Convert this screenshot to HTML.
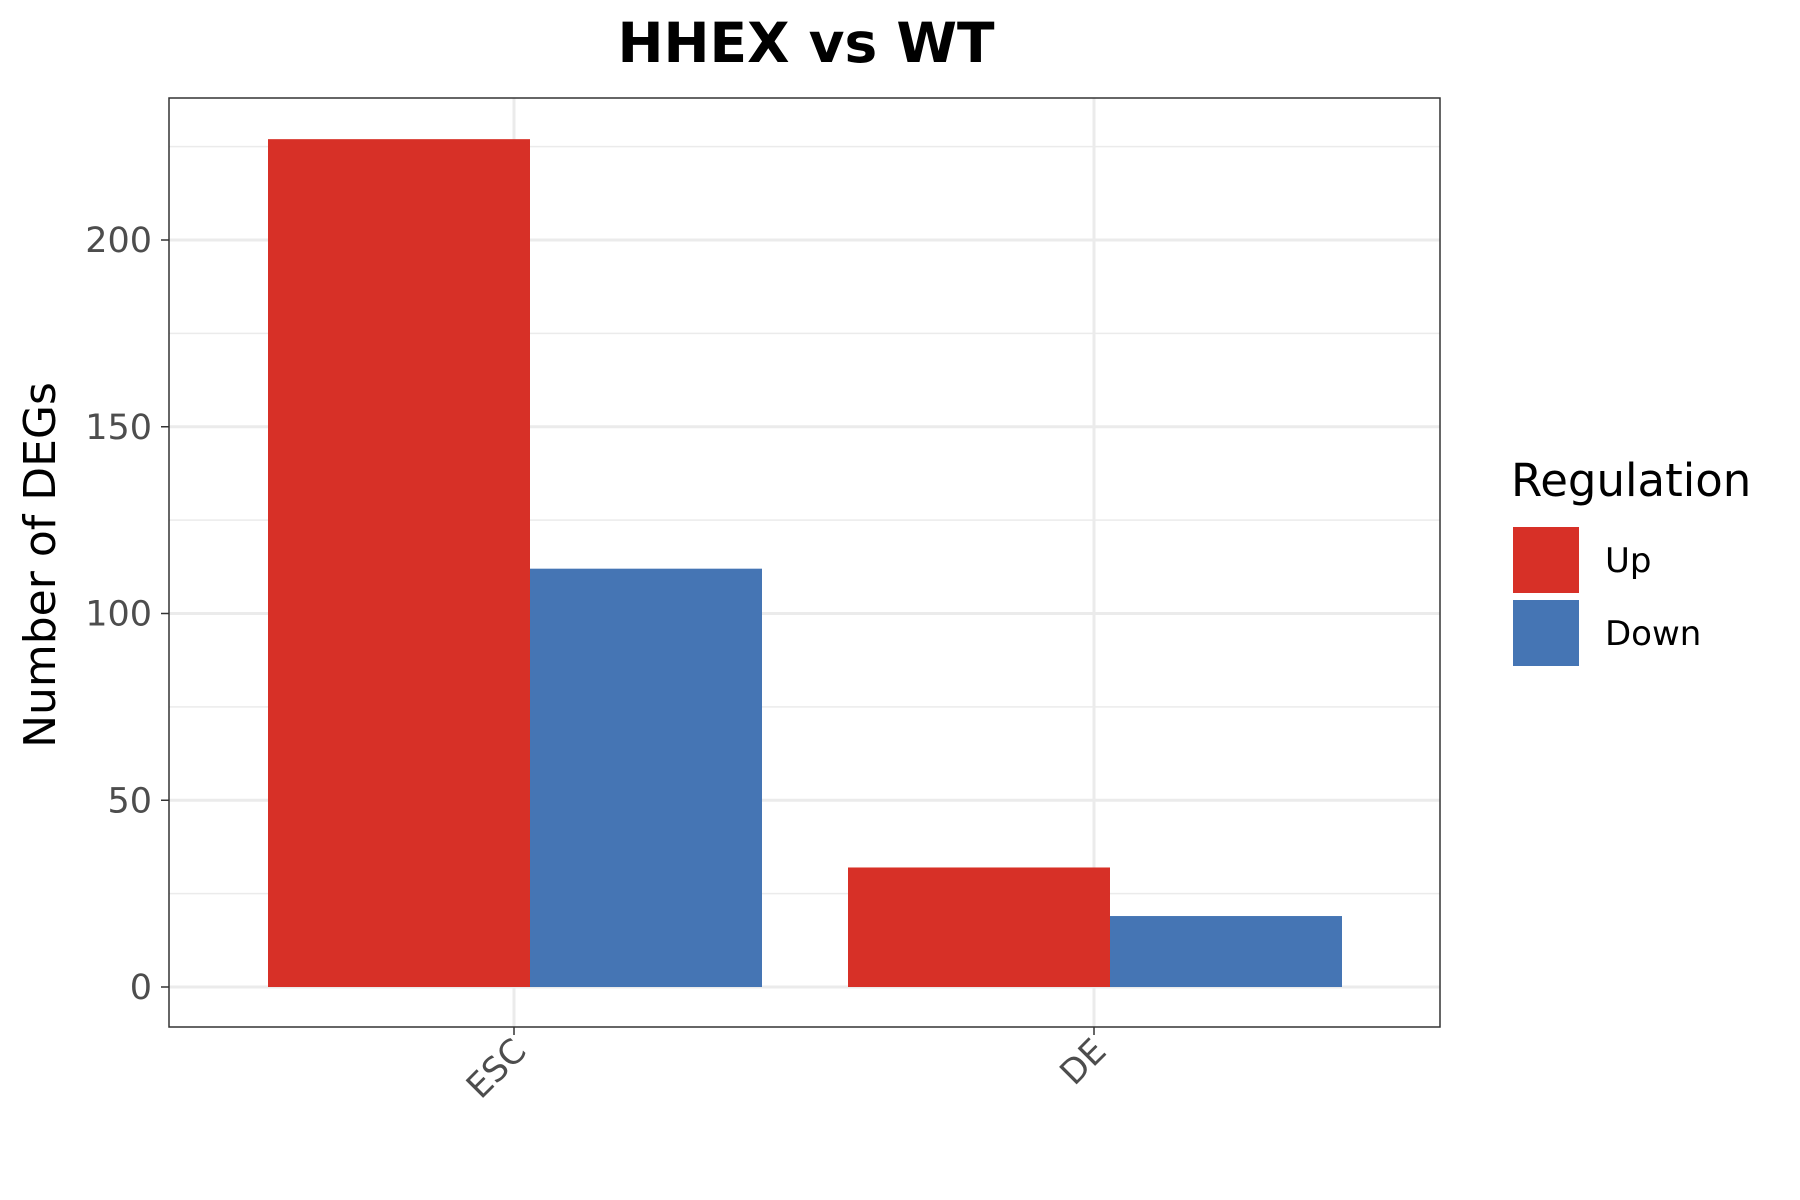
<!DOCTYPE html>
<html><head><meta charset="utf-8"><style>
body{margin:0;background:#fff}
svg{display:block;font-family:"DejaVu Sans","Liberation Sans",sans-serif}
</style></head><body>
<svg id="chart" width="1800" height="1200">
<text x="806" y="62" text-anchor="middle" font-size="55" font-weight="bold" fill="#000">HHEX vs WT</text>
<g id="grid"></g><g id="bars"></g><g id="axes"></g>
<text transform="translate(55,565) rotate(-90)" text-anchor="middle" font-size="44" fill="#000">Number of DEGs</text>
<g>
<text x="1511" y="496" font-size="45" fill="#000">Regulation</text>
<rect x="1513" y="527" width="66" height="66" fill="#d73027"/>
<text x="1605" y="572" font-size="34" fill="#000">Up</text>
<rect x="1513" y="600" width="66" height="66" fill="#4575b4"/>
<text x="1605" y="645" font-size="34" fill="#000">Down</text>
</g>
</svg>
<script>
const categories=["ESC","DE"];
const upValues=[227,32];
const downValues=[112,19];
const yTicks=[0,50,100,150,200];
const NS="http://www.w3.org/2000/svg";
const L=169,R=1440,T=98,B=1027;
const y=v=>987-v*3.735;
const xc=i=>514+i*580;
function mk(p,t,a){const e=document.createElementNS(NS,t);for(const k in a)e.setAttribute(k,a[k]);document.getElementById(p).appendChild(e);return e;}
for(let v=25;v<=225;v+=50){const l=mk('grid','line',{x1:L,x2:R,y1:y(v),y2:y(v),stroke:'#ebebeb','stroke-width':1.5});

}
yTicks.forEach(v=>{const l=mk('grid','line',{x1:L,x2:R,y1:y(v),y2:y(v),stroke:'#ebebeb','stroke-width':3});

});
categories.forEach((c,i)=>{const l=mk('grid','line',{x1:xc(i),x2:xc(i),y1:T,y2:B,stroke:'#ebebeb','stroke-width':3});

});
categories.forEach((c,i)=>{
const u=mk('bars','rect',{x:xc(i)-246,y:y(upValues[i]),width:262,height:y(0)-y(upValues[i]),fill:'#d73027'});


const d=mk('bars','rect',{x:xc(i)+16,y:y(downValues[i]),width:232,height:y(0)-y(downValues[i]),fill:'#4575b4'});


});
const f=mk('axes','rect',{x:L,y:T,width:R-L,height:B-T,fill:'none',stroke:'#333','stroke-width':1.5});


yTicks.forEach(v=>{
const t=mk('axes','line',{x1:L-8,x2:L,y1:y(v),y2:y(v),stroke:'#333','stroke-width':1.5});


const s=mk('axes','text',{x:L-17,y:y(v)+12,'text-anchor':'end','font-size':35,fill:'#4d4d4d'});
s.textContent=v;


});
categories.forEach((c,i)=>{
const t=mk('axes','line',{x1:xc(i),x2:xc(i),y1:B,y2:B+8,stroke:'#333','stroke-width':1.5});


const s=mk('axes','text',{transform:`translate(${xc(i)+14},${B+26}) rotate(-45)`,'text-anchor':'end','font-size':34,fill:'#4d4d4d'});
s.textContent=c;


});
</script>
</body></html>
